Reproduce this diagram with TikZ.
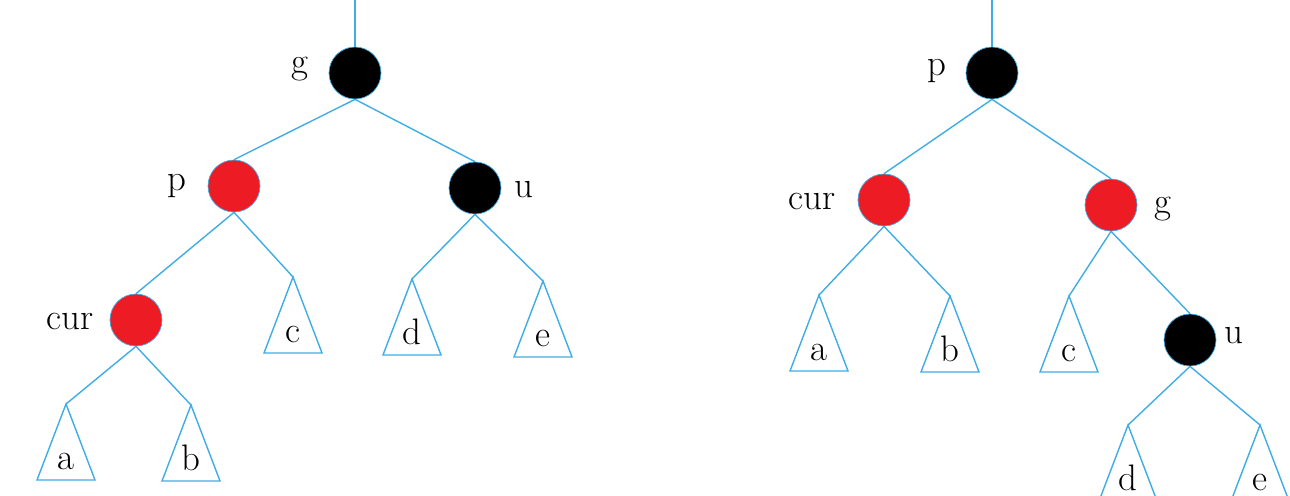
\documentclass[tikz,border=0pt]{standalone}
\usepackage{tikz}
\usetikzlibrary{positioning}
\definecolor{edgeblue}{RGB}{64,172,228}
\definecolor{nodered}{RGB}{237,28,36}
\newcommand{\subtree}[3]{%
  \coordinate (#1) at #2;
  \draw[edge] (#1) -- ++(-29,76) -- ++(58,0) -- cycle;
  \path (#1) ++(0,65) node[lbl] (l#1) {#3};}

\begin{document}
\begin{tikzpicture}[x=0.02cm, y=-0.02cm,
    edge/.style={draw=edgeblue, line width=0.8pt},
    rbnode/.style={circle, draw=edgeblue, line width=0.4pt, minimum size=1.04cm, inner sep=0pt},
    lbl/.style={font=\fontsize{21}{25}\selectfont, inner sep=0pt, anchor=base}]
    \useasboundingbox (0,0) rectangle (1290,495);
    \clip (0,0) rectangle (1290,495);

    % 1. Cây bên trái
    \coordinate (topL) at (355,0);
    \node[rbnode, fill=black] (gL) at (355,73) {};
    \node[rbnode, fill=nodered] (pL) at (234,186) {};
    \node[rbnode, fill=black] (uL) at (475,188) {};
    \node[rbnode, fill=nodered] (curL) at (136,320) {};
    \node[lbl] (lgL) at (300,73) {g};
    \node[lbl] (lpL) at (177,190) {p};
    \node[lbl] (luL) at (524,197) {u};
    \node[lbl] (lcurL) at (70,329) {cur};
    \subtree{sa1}{(66,404)}{a}
    \subtree{sb1}{(191,405)}{b}
    \subtree{sc1}{(293,277)}{c}
    \subtree{sd1}{(412,279)}{d}
    \subtree{se1}{(543,281)}{e}
    \draw[edge] (topL) -- (gL.north);
    \draw[edge] (gL.south) -- (pL.north) (gL.south) -- (uL.north);
    \draw[edge] (pL.south) -- (curL.north) (pL.south) -- (sc1);
    \draw[edge] (uL.south) -- (sd1) (uL.south) -- (se1);
    \draw[edge] (curL.south) -- (sa1) (curL.south) -- (sb1);

    % 2. Cây bên phải
    \coordinate (topR) at (992,0);
    \node[rbnode, fill=black] (pR) at (992,73) {};
    \node[rbnode, fill=nodered] (curR) at (884,200) {};
    \node[rbnode, fill=nodered] (gR) at (1111,205) {};
    \node[rbnode, fill=black] (uR) at (1190,340) {};
    \node[lbl] (lpR) at (937,75) {p};
    \node[lbl] (lcurR) at (812,209) {cur};
    \node[lbl] (lgR) at (1163,213) {g};
    \node[lbl] (luR) at (1234,343) {u};
    \subtree{sa2}{(819,295)}{a}
    \subtree{sb2}{(950,296)}{b}
    \subtree{sc2}{(1069,296)}{c}
    \subtree{sd2}{(1128,425)}{d}
    \subtree{se2}{(1260,425)}{e}
    \draw[edge] (topR) -- (pR.north);
    \draw[edge] (pR.south) -- (curR.north) (pR.south) -- (gR.north);
    \draw[edge] (curR.south) -- (sa2) (curR.south) -- (sb2);
    \draw[edge] (gR.south) -- (sc2) (gR.south) -- (uR.north);
    \draw[edge] (uR.south) -- (sd2) (uR.south) -- (se2);
\end{tikzpicture}
\end{document}
